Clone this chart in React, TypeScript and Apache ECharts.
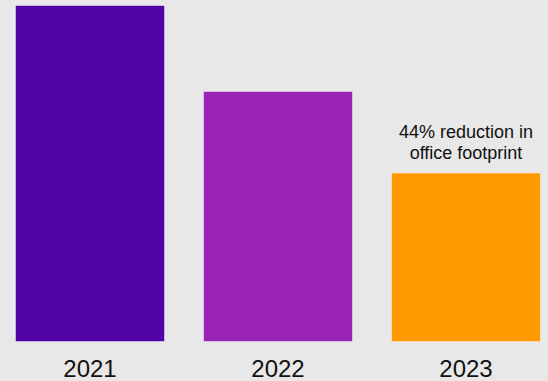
import React, { useEffect, useRef } from "react";
import * as echarts from "echarts";

const categories = ["2021", "2022", "2023"];
const values = [100, 74.5, 50.3];
const barColors = ["#5004a5", "#9a24b4", "#ff9900"];
const annotation = "44% reduction in\noffice footprint";

export default function App() {
  const ref = useRef<HTMLDivElement>(null);
  useEffect(() => {
    if (!ref.current) return;
    const chart = echarts.init(ref.current, undefined, { renderer: "svg" });
    chart.setOption({
      animation: false,
      backgroundColor: "#e8e8e8",
      grid: { left: 0, right: 0, top: 5, bottom: 39, containLabel: false },
      xAxis: {
        type: "category",
        data: categories,
        axisLine: { show: false },
        axisTick: { show: false },
        axisLabel: {
          color: "#111",
          fontSize: 24,
          fontFamily: "Liberation Sans, Arial, sans-serif",
          margin: 14,
        },
      },
      yAxis: {
        type: "value",
        min: 0,
        max: 100,
        show: false,
        splitLine: { show: false },
      },
      series: [
        {
          type: "bar",
          barWidth: 150,
          data: values.map((v, i) => ({
            value: v,
            itemStyle: {
              color: barColors[i],
              borderColor: "rgba(255,255,255,0.45)",
              borderWidth: 1,
            },
            label:
              i === 2
                ? {
                    show: true,
                    position: "top",
                    formatter: annotation,
                    fontSize: 18,
                    lineHeight: 21,
                    color: "#111",
                    distance: 9,
                    fontFamily: "Liberation Sans, Arial, sans-serif",
                  }
                : { show: false },
          })),
        },
      ],
    });
    return () => chart.dispose();
  }, []);
  return (
    <div
      ref={ref}
      style={{ width: 564, height: 381, position: "fixed", left: -4, top: 0 }}
    />
  );
}
